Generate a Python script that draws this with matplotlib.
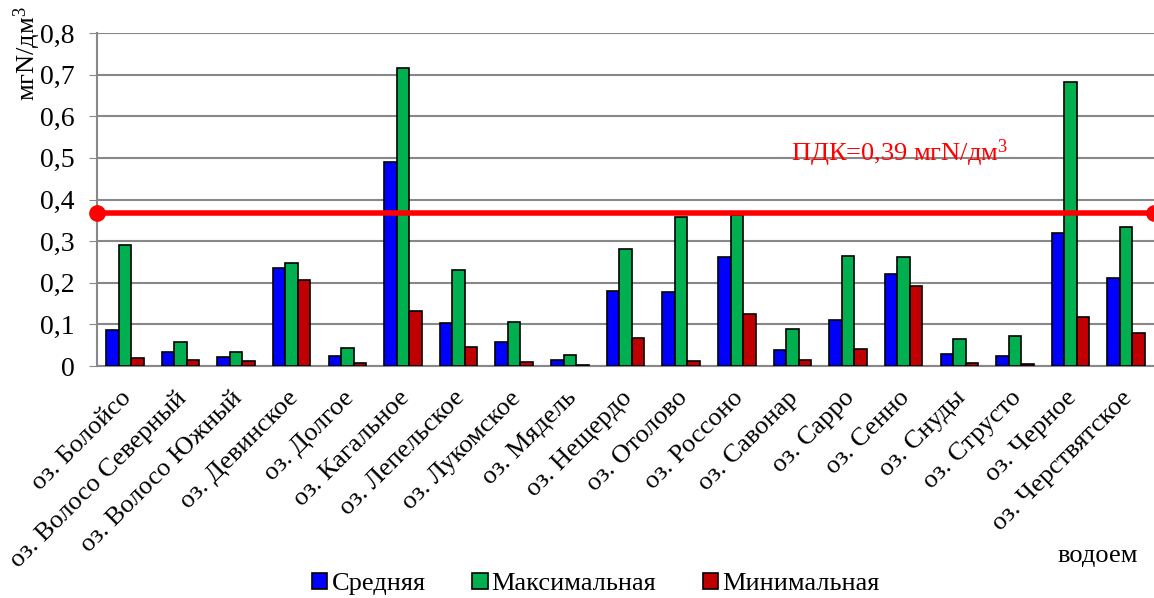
import numpy as np
import matplotlib
matplotlib.use("Agg")
import matplotlib.pyplot as plt
import matplotlib.transforms as mtransforms

plt.rcParams['font.family'] = ['Liberation Serif', 'DejaVu Serif']
plt.rcParams['mathtext.fontset'] = 'custom'
plt.rcParams['mathtext.rm'] = 'Liberation Serif'
plt.rcParams['mathtext.it'] = 'Liberation Serif'
plt.rcParams['mathtext.default'] = 'rm'

lakes = ['оз. Болойсо', 'оз. Волосо Северный', 'оз. Волосо Южный', 'оз. Девинское',
         'оз. Долгое', 'оз. Кагальное', 'оз. Лепельское', 'оз. Лукомское',
         'оз. Мядель', 'оз. Нещердо', 'оз. Отолово', 'оз. Россоно', 'оз. Савонар',
         'оз. Сарро', 'оз. Сенно', 'оз. Снуды', 'оз. Струсто', 'оз. Черное',
         'оз. Черствятское']

mean_vals = [0.086, 0.034, 0.022, 0.235, 0.024, 0.489, 0.103, 0.057, 0.014, 0.181,
             0.177, 0.261, 0.038, 0.111, 0.222, 0.028, 0.025, 0.319, 0.212]
max_vals = [0.290, 0.058, 0.033, 0.248, 0.043, 0.715, 0.230, 0.105, 0.026, 0.282,
            0.359, 0.362, 0.088, 0.265, 0.261, 0.064, 0.072, 0.682, 0.334]
min_vals = [0.020, 0.014, 0.011, 0.206, 0.007, 0.131, 0.046, 0.010, 0.003, 0.068,
            0.012, 0.125, 0.014, 0.042, 0.192, 0.007, 0.004, 0.118, 0.079]

pdk_level = 0.367
pdk_text = 'ПДК=0,39 мгN/дм$^3$'

fig = plt.figure(figsize=(11.54, 5.98), dpi=100)
ax = fig.add_axes([97/1154, 1-366/598, 1-97/1154, (366-33)/598])

x = np.arange(len(lakes))
w = 0.225
ax.bar(x - w, mean_vals, w, color='#0000FF', edgecolor='black', linewidth=1.2, label='Средняя', zorder=3)
ax.bar(x, max_vals, w, color='#00B050', edgecolor='black', linewidth=1.2, label='Максимальная', zorder=3)
ax.bar(x + w, min_vals, w, color='#C00000', edgecolor='black', linewidth=1.2, label='Минимальная', zorder=3)

# линия ПДК
ax.plot([-0.5, len(lakes) - 0.5], [pdk_level, pdk_level], color='red', linewidth=4,
        marker='o', markersize=11, zorder=4, clip_on=False)
ax.text(11.98, 0.512, pdk_text, color='red', fontsize=19, va='center', ha='left')

ax.set_xlim(-0.5, len(lakes) - 0.5)
ax.set_ylim(0, 0.8)
ticks = np.arange(0, 0.81, 0.1)
ax.set_yticks(ticks)
ax.set_yticklabels(['0'] + [('%.1f' % v).replace('.', ',') for v in ticks[1:]], fontsize=20)
ax.set_xticks(x)
ax.set_xticklabels(lakes, rotation=45, ha='right', rotation_mode='anchor', fontsize=19)
ax.tick_params(axis='x', length=0, pad=10)
ax.tick_params(axis='y', length=6, color='#888888', pad=10)
shift = mtransforms.ScaledTranslation(-5/100, -7/100, fig.dpi_scale_trans)
for lbl in ax.get_xticklabels():
    lbl.set_transform(lbl.get_transform() + shift)
ax.grid(axis='y', color='#888888', linewidth=1.5, zorder=0)
ax.set_axisbelow(True)
for s in ['top', 'right']:
    ax.spines[s].set_visible(False)
ax.spines['left'].set_color('#888888')
ax.spines['bottom'].set_color('#888888')
ax.spines['left'].set_linewidth(1.5)
ax.spines['bottom'].set_linewidth(1.5)

fig.text(27/1154, 1-6/598, 'мгN/дм$^3$', rotation=90, ha='center', va='top', fontsize=19)
fig.text(1138/1154, 1-556/598, 'водоем', ha='right', va='center', fontsize=19)

fig.legend(loc='center', bbox_to_anchor=(596/1154, 1-584/598), ncol=3, frameon=False,
           fontsize=19, handlelength=0.57, handleheight=0.57, handletextpad=0.15,
           columnspacing=1.78)

fig.savefig('out.png', dpi=100)
